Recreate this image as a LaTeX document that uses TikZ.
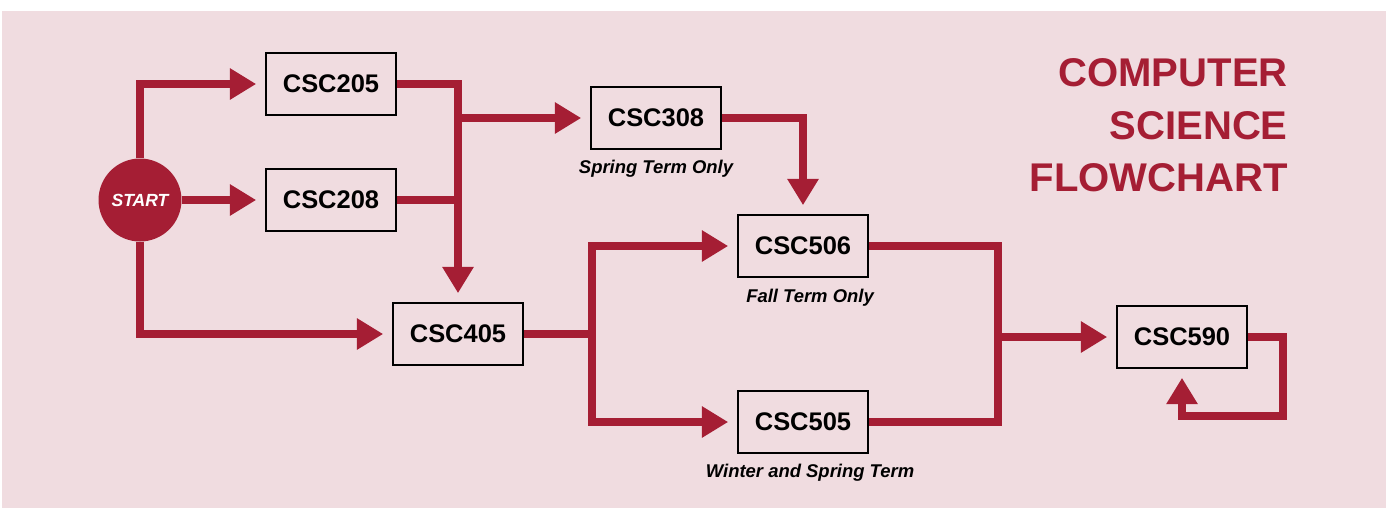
\documentclass[tikz,border=0pt]{standalone}
\usepackage{fontspec}
\setmainfont{Liberation Sans}
\usetikzlibrary{positioning,arrows.meta,calc}
\definecolor{crimson}{RGB}{165,30,52}
\definecolor{bgpink}{RGB}{240,220,224}

\begin{document}
\begin{tikzpicture}[
    x=0.02cm, y=-0.02cm,
    every node/.style={font=\bfseries},
    course/.style={rectangle, draw=black, line width=1.2pt, minimum width=2.6cm, minimum height=1.24cm, inner sep=0pt, font=\fontsize{14.5}{17}\selectfont\bfseries},
    term/.style={inner sep=0pt, font=\fontsize{10.5}{12}\selectfont\bfseries\itshape},
    startnode/.style={circle, fill=crimson, minimum size=1.66cm, inner sep=0pt, text=white, font=\fontsize{10}{12}\selectfont\bfseries\itshape},
    link/.style={draw=crimson, line width=4.5pt},
    flow/.style={link, -{Triangle[length=15pt, width=17pt]}, shorten >=5pt},
    title/.style={align=right, text=crimson, inner sep=0pt, font=\fontsize{22.8}{30}\selectfont\bfseries}
]

% ============ CANVAS ============
\useasboundingbox (0,0) rectangle (1386,508);
\fill[bgpink] (2,11) rectangle (1386,508);

% ============ COURSES ============
\node[startnode] (start) at (140,200) {START};
\node[course] (csc205) at (331,84) {CSC205};
\node[course] (csc208) at (331,200) {CSC208};
\node[course] (csc405) at (458,334) {CSC405};
\node[course] (csc308) at (656,118) {CSC308};
\node[course] (csc506) at (803,246) {CSC506};
\node[course] (csc505) at (803,422) {CSC505};
\node[course] (csc590) at (1182,337) {CSC590};

% Term notes
\node[term, below=5.5pt of csc308] (spring) {Spring Term Only};
\node[term, below=6pt of csc506, xshift=4pt] (fall) {Fall Term Only};
\node[term, below=5.5pt of csc505, xshift=4pt] (winter) {Winter and Spring Term};

% Heading
\node[title, anchor=north east] (heading) at (1288,58) {COMPUTER\\SCIENCE\\FLOWCHART};

% ============ JUNCTIONS ============
\coordinate (tee) at (csc208 -| csc405);
\coordinate (branch) at (csc308 -| csc405);
\coordinate (split) at (592,334);
\coordinate (join) at (998,337);
\coordinate (loop) at (1283,416);

% ============ ARROWS ============
\draw[flow] (start) |- (csc205);
\draw[flow] (start) -- (csc208);
\draw[flow] (start) |- (csc405);
\draw[flow] (csc205) -| (csc405);
\draw[link] (csc208) -- (tee);
\draw[flow] (branch) -- (csc308);
\draw[flow] (csc308) -| (csc506);

\draw[link] (csc405) -- (split);
\draw[flow] (split) |- (csc506);
\draw[flow] (split) |- (csc505);

\draw[link] (csc506) -| (join);
\draw[link] (csc505) -| (join);
\draw[flow] (join) -- (csc590);
\draw[flow] (csc590) -| (loop) -| (csc590);

\end{tikzpicture}
\end{document}
